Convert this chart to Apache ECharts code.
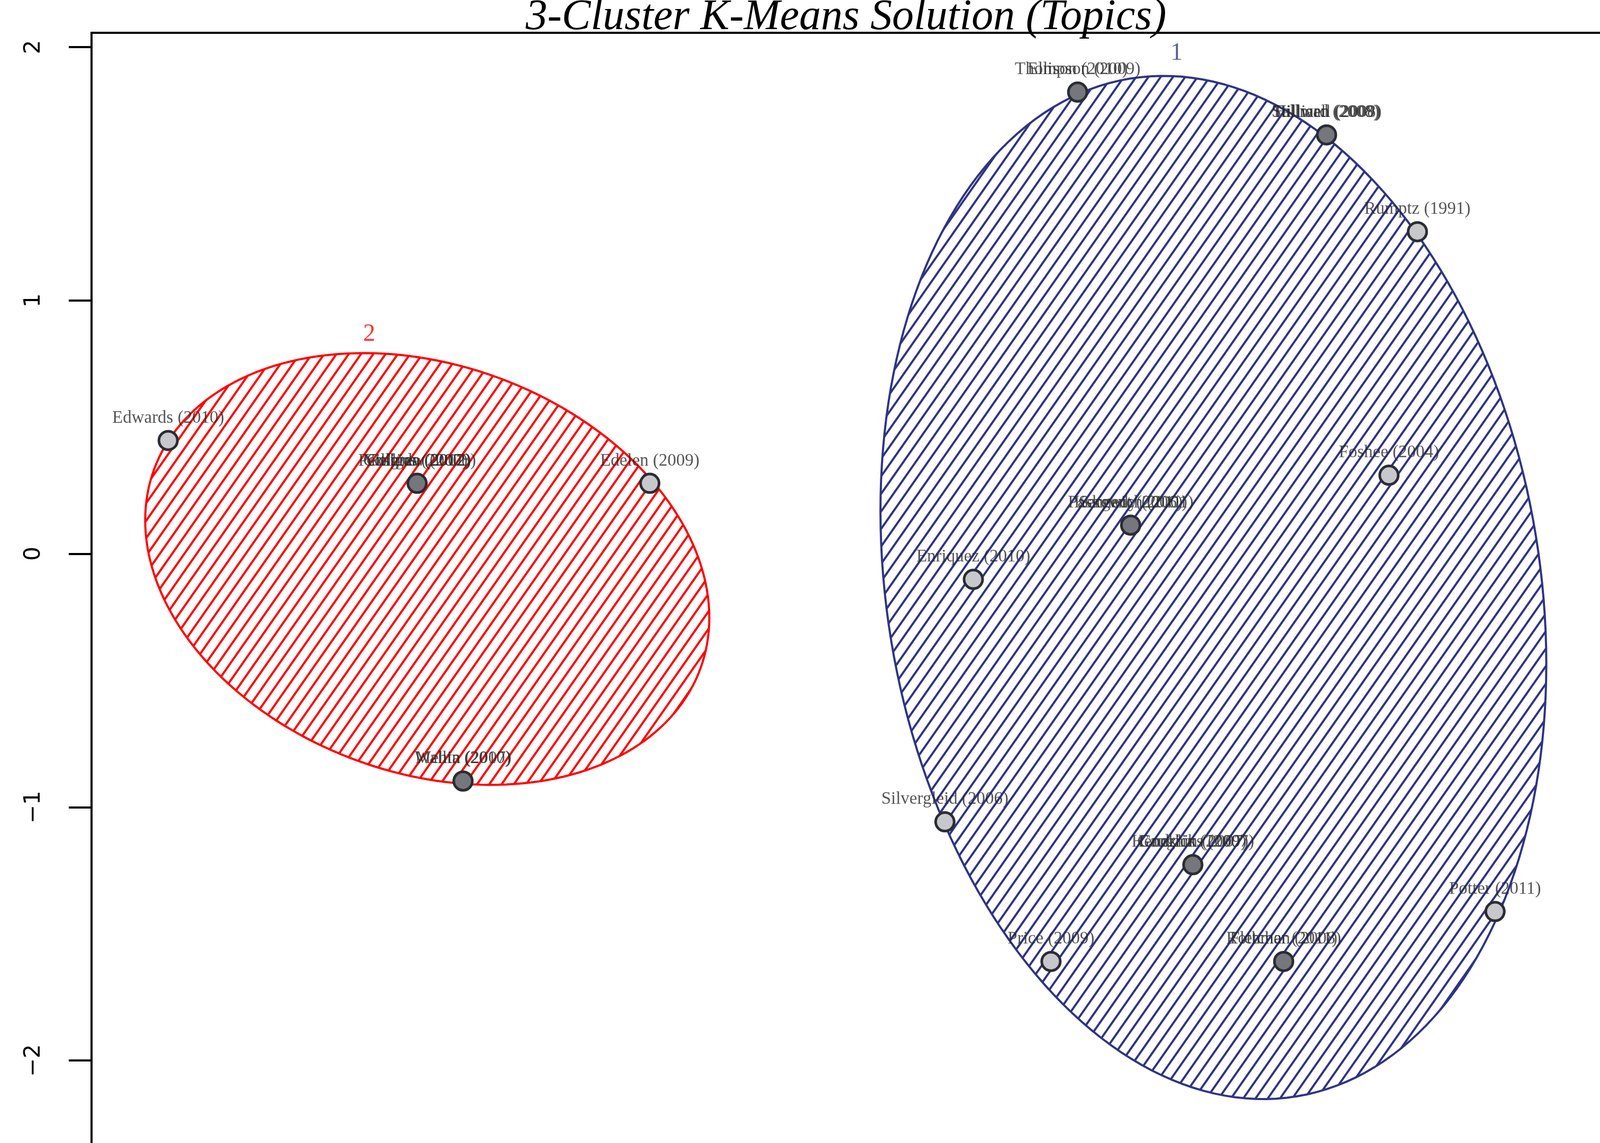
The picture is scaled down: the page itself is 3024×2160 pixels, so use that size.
<!DOCTYPE html>
<html><head><meta charset="utf-8">
<script src="https://cdn.jsdelivr.net/npm/echarts@6/dist/echarts.min.js"></script>
<style>html,body{margin:0;padding:0;background:#fff;overflow:hidden;width:3024px;height:2160px}#c{width:3064px;height:2486px}</style>
</head><body><div id="c"></div>
<script>
// points: [x, y, labels...]
const pointX = [-3.198,-2.217,-1.300,-2.036, 0.386,1.367,1.725,1.613,0.595,-0.025,-0.137,0.840,2.031,0.281,1.198];
const pointY = [0.447,0.278,0.278,-0.897, 1.822,1.653,1.271,0.310,0.113,-0.101,-1.058,-1.227,-1.412,-1.609,-1.609];
const pointLabels = [
 ["Edwards (2010)"],
 ["Yoshida (2012)","Pettigrew (2008)","Collins (2007)","Gilligan (2002)"],
 ["Edelen (2009)"],
 ["Wallin (2007)","Mehta (2010)"],
 ["Ellison (2010)","Thompson (2009)"],
 ["Stillwell (2008)","Tallman (2009)","Hilliard (2008)"],
 ["Rumptz (1991)"],
 ["Foshee (2004)"],
 ["Paskewich (2001)","Sargent (2006)","Kennedy (2011)"],
 ["Enriquez (2010)"],
 ["Silvergleid (2006)"],
 ["Hendricks (2007)","Conklin (2009)","Gaughin (2007)"],
 ["Potter (2011)"],
 ["Price (2009)"],
 ["Rothman (2008)","Fletcher (2011)"]
];
// ellipses: center x, center y, semi-major, semi-minor, angle (deg, data space)
const ellCX = [-2.177, 0.921];
const ellCY = [-0.060, -0.133];
const ellA = [1.146, 2.035];
const ellB = [0.805, 1.287];
const ellAng = [-20, 99.3];
const ellColor = ['#ff0000', '#2e3484'];
const clusterNames = ['2', '1'];
const clusterLabX = [-2.406, 0.776];
const clusterLabY = [0.865, 1.975];
const yTicks = [-2,-1,0,1,2];

const chart = echarts.init(document.getElementById('c'));
const serif = 'Liberation Serif';

const scatterData = pointX.map((x,i)=>{
  const multi = pointLabels[i].length>1;
  return {value:[x,pointY[i]], itemStyle:{color: multi?'#75777d':'#c7c8cc'}};
});

const labelData = [];
pointX.forEach((x,i)=>pointLabels[i].forEach(n=>labelData.push({value:[x,pointY[i]],name:n})));

function renderEllipse(params, api){
  const i = api.value(0);
  const cx=ellCX[i], cy=ellCY[i], a=ellA[i], b=ellB[i], t=ellAng[i]*Math.PI/180;
  const pts=[];
  for(let k=0;k<=200;k++){
    const u=2*Math.PI*k/200;
    const ex=a*Math.cos(u), ey=b*Math.sin(u);
    const x=cx+ex*Math.cos(t)-ey*Math.sin(t);
    const y=cy+ex*Math.sin(t)+ey*Math.cos(t);
    pts.push(api.coord([x,y]));
  }
  let minx=1e9,maxx=-1e9,miny=1e9,maxy=-1e9;
  pts.forEach(p=>{minx=Math.min(minx,p[0]);maxx=Math.max(maxx,p[0]);miny=Math.min(miny,p[1]);maxy=Math.max(maxy,p[1]);});
  const mx=(minx+maxx)/2,my=(miny+maxy)/2, R=Math.hypot(maxx-minx,maxy-miny);
  const ang=55*Math.PI/180, dx=Math.cos(ang), dy=-Math.sin(ang), nx=Math.sin(ang), ny=Math.cos(ang);
  const sp=19, lines=[];
  for(let d=-R; d<=R; d+=sp){
    const px=mx+nx*d, py=my+ny*d;
    lines.push({type:'line',shape:{x1:px-dx*R,y1:py-dy*R,x2:px+dx*R,y2:py+dy*R},
      style:{stroke:ellColor[i],lineWidth:4}});
  }
  return {type:'group',children:[
    {type:'group',children:lines,clipPath:{type:'polygon',shape:{points:pts}}},
    {type:'polygon',shape:{points:pts},style:{fill:'none',stroke:ellColor[i],lineWidth:4}}
  ]};
}

chart.setOption({
  animation:false,
  grid:{left:173,top:62,right:0,bottom:0,show:true,borderColor:'#000',borderWidth:4,backgroundColor:'transparent'},
  xAxis:{type:'value',min:-3.5,max:2.528,show:true,axisLine:{show:false},axisTick:{show:false},axisLabel:{show:false},splitLine:{show:false}},
  yAxis:{type:'value',min:-3,max:2.056,interval:1,axisLine:{show:true,onZero:false,lineStyle:{color:'#000',width:4}},
    axisTick:{show:true,length:43,lineStyle:{color:'#000',width:4}},
    axisLabel:{show:true,rotate:90,margin:88,fontSize:42,color:'#000',fontFamily:'DejaVu Sans',showMaxLabel:false,
      formatter:v=>yTicks.indexOf(Math.round(v*1000)/1000)>=0?String(Math.round(v)).replace('-','\u2212'):''},
    splitLine:{show:false}},
  graphic:[{type:'text',x:1599,y:-8,style:{text:'3-Cluster K-Means Solution (Topics)',font:'italic 82px "Liberation Serif"',fill:'#000',textAlign:'center'}}],
  series:[
    {type:'custom',renderItem:renderEllipse,data:[[0],[1]],z:1,clip:false,silent:true},
    {type:'scatter',data:scatterData,symbolSize:35,z:3,
      itemStyle:{borderColor:'#2a2d33',borderWidth:5,opacity:1}},
    {type:'scatter',data:labelData,symbolSize:0,z:4,
      label:{show:true,position:'top',distance:26,formatter:p=>p.name,fontFamily:serif,fontSize:33,color:'#2a2a2a'}},
    {type:'scatter',symbolSize:0,z:4,data:clusterNames.map((n,i)=>({value:[clusterLabX[i],clusterLabY[i]],name:n,label:{color:ellColor[i]}})),
      label:{show:true,position:'inside',formatter:p=>p.name,fontFamily:serif,fontSize:46}}
  ]
});
</script></body></html>
